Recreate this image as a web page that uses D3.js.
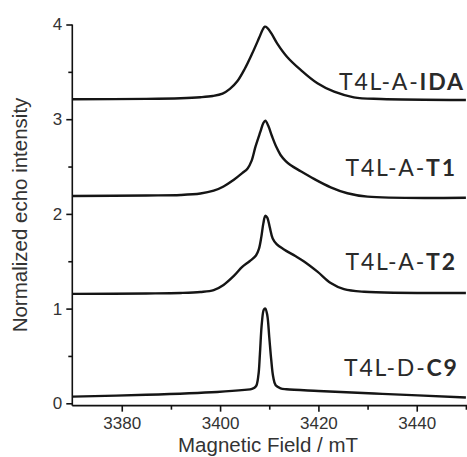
<!DOCTYPE html>
<html><head><meta charset="utf-8">
<script src="https://cdn.jsdelivr.net/npm/d3@7"></script>
<style>html,body{margin:0;padding:0;background:#fff;}</style>
</head><body>
<svg id="c" width="467" height="457"></svg>
<script>
// Data: [field (mT), normalized intensity]
const fieldDomain = [3370, 3450];
const intensityDomain = [0, 4];
const xTicksMajor = [3380, 3400, 3420, 3440];
const xTicksMinor = [3390, 3410, 3430, 3450];
const yTicksMajor = [0, 1, 2, 3, 4];
const yTicksMinor = [0.5, 1.5, 2.5, 3.5];

const seriesIDA = [[3370,3.21],[3385,3.215],[3392,3.222],[3396,3.232],[3398.5,3.245],[3400.5,3.27],[3402,3.32],[3403.5,3.40],[3405,3.53],[3406.5,3.69],[3407.9,3.854],[3408.7,3.95],[3409.1,3.977],[3409.6,3.965],[3410.5,3.90],[3411.6,3.801],[3413.6,3.66],[3416.4,3.52],[3419.8,3.379],[3423.2,3.29],[3427.2,3.231],[3432.7,3.213],[3450,3.203]];
const seriesT1 = [[3370,2.189],[3385,2.195],[3392,2.2],[3396,2.215],[3398.7,2.245],[3400.7,2.29],[3402.8,2.36],[3404.5,2.43],[3405.6,2.48],[3406.4,2.56],[3407.2,2.71],[3408.2,2.868],[3408.8,2.96],[3409.2,2.985],[3409.8,2.93],[3410.6,2.815],[3411.5,2.70],[3412.3,2.622],[3413.3,2.56],[3414.3,2.516],[3416.4,2.45],[3419.1,2.37],[3422.5,2.281],[3425.9,2.218],[3430.0,2.182],[3450,2.171]];
const seriesT2 = [[3370,1.155],[3385,1.16],[3392,1.165],[3396,1.175],[3398.7,1.195],[3400.7,1.25],[3402.8,1.345],[3404.5,1.44],[3406,1.50],[3407.3,1.56],[3407.9,1.63],[3408.4,1.76],[3408.8,1.9],[3409.2,1.98],[3409.6,1.96],[3410.1,1.86],[3410.7,1.74],[3411.5,1.68],[3413.0,1.625],[3415.3,1.555],[3417.0,1.50],[3419.8,1.39],[3422.5,1.27],[3425.2,1.205],[3429.3,1.178],[3450,1.165]];
const seriesC9 = [[3370,0.07],[3385,0.09],[3399.4,0.12],[3405,0.142],[3406.5,0.152],[3407.3,0.18],[3407.8,0.3],[3408.1,0.52],[3408.5,0.85],[3408.9,0.99],[3409.2,1.0],[3409.6,0.93],[3410.0,0.7],[3410.4,0.46],[3410.8,0.28],[3411.3,0.19],[3412.3,0.158],[3413.5,0.148],[3420,0.13],[3433,0.1],[3450,0.062]];

const seriesList = [
  {data: seriesIDA, prefix: "T4L-A-", bold: "IDA", lx: 339, ly: 90},
  {data: seriesT1,  prefix: "T4L-A-", bold: "T1",  lx: 345.5, ly: 176},
  {data: seriesT2,  prefix: "T4L-A-", bold: "T2",  lx: 345.5, ly: 270},
  {data: seriesC9,  prefix: "T4L-D-", bold: "C9",  lx: 344, ly: 376}
];

const svg = d3.select("#c");
const x = d3.scaleLinear().domain(fieldDomain).range([72.6, 465.9]);
const y = d3.scaleLinear().domain(intensityDomain).range([403.3, 24.5]);
const axisY = y(-0.025);
const axisX = x(3370) - 0.3;

const line = d3.line().x(d => x(d[0])).y(d => y(d[1])).curve(d3.curveCatmullRom.alpha(0.5));
svg.append("g").selectAll("path").data(seriesList).join("path")
  .attr("d", d => line(d.data))
  .attr("fill", "none").attr("stroke", "#151515").attr("stroke-width", 2.4)
  .attr("stroke-linejoin", "round");

// axes
const tickFont = "Liberation Sans, Arial, sans-serif";
const gx = svg.append("g").attr("transform", `translate(0,${axisY})`);
gx.call(d3.axisBottom(x).tickValues(xTicksMajor).tickSize(6).tickSizeOuter(0).tickPadding(5).tickFormat(d3.format("d")));
gx.append("g").call(d3.axisBottom(x).tickValues(xTicksMinor).tickSize(4).tickSizeOuter(0).tickFormat(""))
  .select(".domain").remove();
gx.select(".domain").attr("d", `M${axisX},0H467`);
const gy = svg.append("g").attr("transform", `translate(${axisX},0)`);
gy.call(d3.axisLeft(y).tickValues(yTicksMajor).tickSize(6).tickSizeOuter(0).tickPadding(4).tickFormat(d3.format("d")));
gy.append("g").call(d3.axisLeft(y).tickValues(yTicksMinor).tickSize(4).tickSizeOuter(0).tickFormat(""))
  .select(".domain").remove();
gy.select(".domain").attr("d", `M0,${y(4)}V${axisY}`);
svg.selectAll(".domain, .tick line").attr("stroke", "#111").attr("stroke-width", 1.6);
svg.selectAll(".tick text").attr("font-family", tickFont).attr("font-size", 17).attr("fill", "#333");

// axis titles
svg.append("text").attr("x", 268).attr("y", 452).attr("text-anchor", "middle")
  .attr("font-family", tickFont).attr("font-size", 20.5).attr("fill", "#333")
  .text("Magnetic Field / mT");
svg.append("text").attr("transform", "translate(27,215) rotate(-90)").attr("text-anchor", "middle")
  .attr("font-family", tickFont).attr("font-size", 20.5).attr("fill", "#333")
  .text("Normalized echo intensity");

// series labels
const lab = svg.append("g").selectAll("text").data(seriesList).join("text")
  .attr("x", d => d.lx).attr("y", d => d.ly)
  .attr("font-family", "Lato, 'Open Sans', sans-serif").attr("font-size", 23)
  .attr("letter-spacing", 1.8).attr("fill", "#2a2a2a");
lab.append("tspan").text(d => d.prefix);
lab.append("tspan").attr("font-weight", "bold").text(d => d.bold);
</script>
</body></html>
